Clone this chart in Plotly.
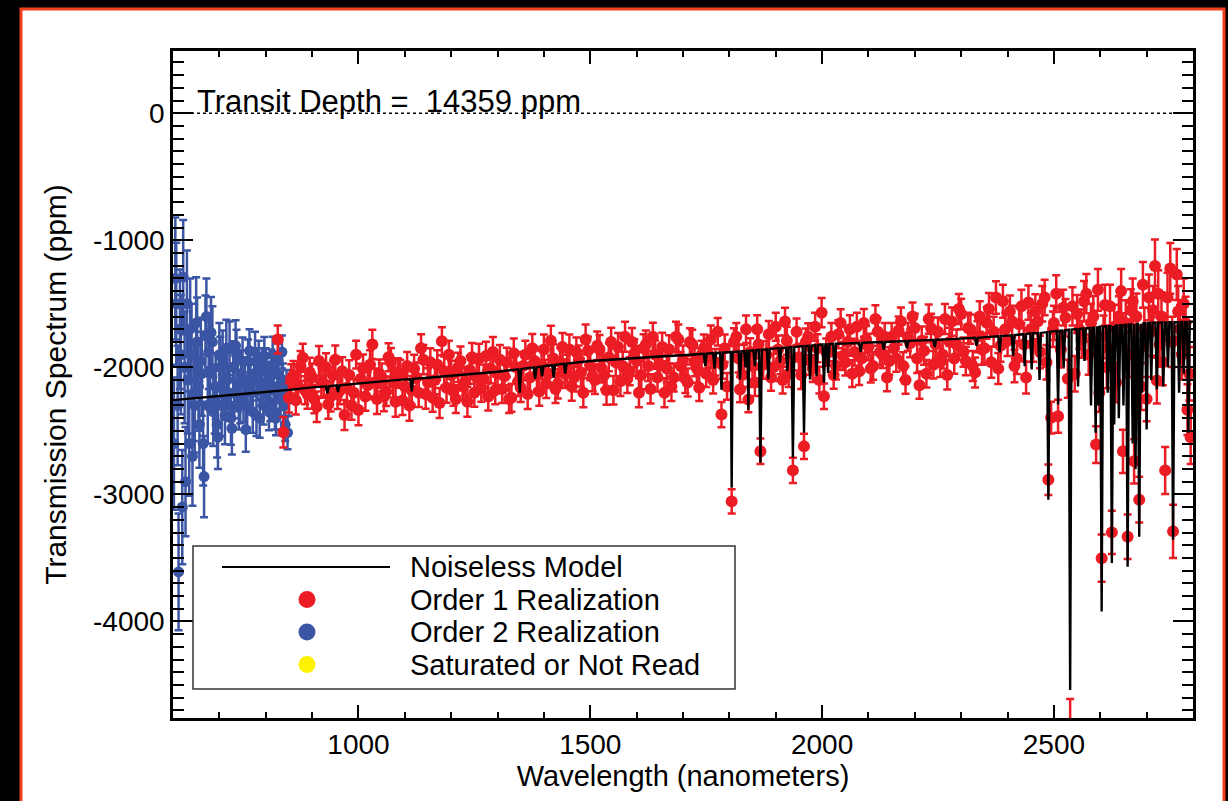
import plotly.graph_objects as go

# ---------------- data ----------------
# Order 2 realization (blue)
order2_wl = [602, 605, 607, 610, 612, 615, 617, 620, 622, 625, 627, 630, 632, 635, 637, 640, 642, 645, 647, 650,
             652, 655, 657, 660, 662, 665, 667, 670, 672, 675, 677, 680, 682, 685, 687, 690, 692, 695, 697, 700,
             702, 705, 707, 710, 712, 715, 717, 720, 722, 725, 727, 730, 732, 735, 737, 740, 742, 745, 747, 750,
             752, 755, 757, 760, 762, 765, 767, 770, 772, 775, 777, 780, 782, 785, 787, 790, 792, 795, 797, 800,
             802, 805, 807, 810, 812, 815, 817, 820, 822, 825, 827, 830, 832, 835, 837, 840, 842, 845, 847, 850]
order2_ppm = [-2600, -1300, -1500, -2300, -3610, -1700, -1900, -3100, -1290, -2000, -2900, -1500, -2100, -2600, -1700, -1900, -2700, -2200, -2300, -1650,
              -1800, -2150, -2450, -1950, -2050, -2600, -2860, -1750, -1600, -2300, -1880, -2050, -1726, -1800, -2350, -2250, -2150, -2450, -2550, -1900,
              -2000, -2300, -1939, -2100, -2380, -1850, -2100, -2200, -1850, -2400, -2480, -2000, -2200, -1830, -1900, -2150, -2300, -2250, -2050, -1950,
              -2250, -2100, -2490, -2300, -1950, -1870, -2150, -2200, -2350, -2050, -1880, -2380, -2100, -1950, -2400, -2150, -2000, -2300, -1912, -2000,
              -2200, -2100, -2350, -2280, -2000, -1900, -2150, -2350, -2400, -2050, -1950, -2200, -2250, -1880, -2100, -2300, -2450, -2150, -2514, -2250]
order2_err = [520, 480, 480, 470, 460, 470, 470, 450, 450, 440, 430, 420, 420, 410, 400, 400, 390, 380, 370, 360,
              350, 350, 340, 340, 330, 330, 320, 315, 300, 300, 290, 290, 280, 280, 270, 270, 260, 260, 250, 250,
              240, 240, 230, 230, 225, 225, 220, 220, 210, 210, 205, 205, 200, 200, 195, 195, 190, 190, 185, 185,
              180, 180, 175, 175, 170, 170, 170, 170, 165, 165, 160, 160, 160, 160, 155, 155, 150, 150, 150, 150,
              145, 145, 145, 145, 140, 140, 140, 140, 135, 135, 135, 135, 130, 130, 130, 130, 130, 130, 130, 130]

# Order 1 realization (red) - first half of the samples
order1_wl_a = [826, 838, 850, 860, 870, 880, 890, 900, 910, 920, 930, 940,
               950, 960, 970, 980, 990, 1000, 1010, 1020, 1030, 1040,
               1050, 1060, 1070, 1080, 1090, 1100, 1110, 1120, 1130, 1140,
               1150, 1160, 1170, 1180, 1190, 1200, 1210, 1220, 1230, 1240,
               1250, 1260, 1270, 1280, 1290, 1300, 1310, 1320, 1330, 1340,
               1350, 1360, 1370, 1380, 1390, 1400, 1410, 1420, 1430, 1440,
               1450, 1460, 1470, 1480, 1490, 1500, 1510, 1520, 1530, 1540,
               1550, 1560, 1570, 1580, 1590, 1600, 1610, 1620, 1630, 1640,
               1650, 1660, 1670, 1680, 1690, 1700, 1710, 1720, 1730, 1740,
               1750, 1760, 1770, 1783, 1790, 1805, 1815, 1823, 1832, 1841,
               1850, 1860, 1867, 1880, 1890, 1900, 1910, 1920, 1928, 1937,
               1950, 1961, 1970, 1980, 1990, 1999, 2004, 2015, 2025, 2035,
               2050, 2060, 2070, 2080, 2090, 2100, 2110, 2120, 2130, 2140,
               2150, 2160, 2170, 2180, 2190, 2200, 2210, 2220, 2230, 2240,
               2250, 2260, 2270, 2280, 2290, 2300, 2310, 2320, 2330, 2340,
               2350, 2360, 2370, 2380, 2390, 2400, 2410, 2420, 2430, 2440,
               2450, 2460, 2470, 2480, 2488, 2494, 2500, 2509, 2520, 2535,
               2545, 2550, 2560, 2570, 2580, 2591, 2598, 2603, 2610, 2617, 2625, 2634,
               2640, 2649, 2659, 2666, 2673, 2684, 2695, 2700, 2705, 2718, 2722, 2728, 2735, 2740,
               2751, 2757, 2765, 2772, 2780, 2788, 2795]
order1_ppm_a = [-1781, -2510, -2240, -2060, -2150, -1925, -2210, -2080, -2310, -2120, -2000, -2230,
                -1940, -2180, -2375, -2060, -2200, -2335, -2010, -2140, -1820, -2250,
                -2080, -2190, -1960, -2270, -2050, -2150, -2300, -2010, -2200, -1940,
                -2120, -2240, -1980, -1795, -2160, -2060, -2250, -1950, -2110, -2020,
                -2200, -1930, -2090, -2230, -1880, -2050, -2170, -1960, -2240, -2000,
                -2160, -1900, -2080, -1950, -2190, -1860, -2050, -1930, -2130, -1840,
                -2010, -2150, -1880, -2040, -1780, -1990, -2100, -1860, -2060, -1920,
                -2180, -1840, -1990, -2090, -1800, -1950, -2060, -1820, -2170, -1900,
                -1980, -2200, -1860, -2080, -1780, -1940, -2120, -1820, -2010, -1900,
                -2050, -1780, -1960, -2372, -1850, -3055, -1760, -2175, -1930, -2254,
                -1990, -1700, -2661, -1900, -2080, -1680, -1950, -1640, -2050, -2811,
                -1920, -2622, -1760, -2010, -1850, -1570, -2228, -1880, -2060, -1740,
                -1960, -1700, -1880, -2030, -1650, -1840, -1990, -1720, -1900, -2080,
                -1760, -1930, -1640, -2100, -1810, -1690, -2140, -1870, -1620, -1980,
                -1720, -1900, -2060, -1640, -1820, -1580, -1950, -1700, -2040, -1600,
                -1850, -1540, -1720, -2010, -1480, -1790, -1640, -1930, -1520, -2080,
                -1700, -1560, -1880, -1450, -2884, -2396, -1650, -2385, -1530, -4850,
                -2050, -1580, -1780, -1420, -1650, -2608, -2200, -3502, -1510, -1850, -3299, -2120,
                -1600, -2661, -3333, -1550, -2740, -3042, -1700, -2250, -1450, -1203, -2104, -1820, -1960, -2811,
                -1221, -3291, -1269, -1700, -1500, -2333, -2550]
order1_err_a = [110, 120, 115, 110, 120, 110, 115, 110, 120, 112, 110, 118,
                112, 110, 118, 115, 110, 120, 112, 110, 115, 118,
                110, 115, 112, 118, 110, 115, 120, 110, 112, 115,
                112, 110, 115, 110, 118, 112, 110, 115, 112, 110,
                110, 115, 112, 110, 118, 112, 110, 115, 110, 112,
                112, 110, 115, 110, 112, 118, 110, 112, 115, 110,
                110, 112, 115, 110, 118, 112, 110, 115, 112, 110,
                112, 110, 115, 112, 110, 118, 112, 110, 115, 112,
                110, 115, 112, 110, 118, 112, 110, 115, 112, 110,
                105, 110, 105, 100, 108, 95, 110, 100, 105, 100,
                105, 110, 100, 108, 105, 110, 105, 110, 105, 100,
                105, 100, 108, 105, 110, 115, 100, 105, 108, 110,
                105, 110, 105, 108, 110, 105, 108, 110, 105, 108,
                110, 105, 112, 108, 110, 112, 108, 110, 115, 108,
                112, 110, 115, 112, 118, 120, 112, 115, 118, 120,
                120, 125, 118, 122, 130, 120, 125, 122, 130, 125,
                130, 135, 128, 140, 120, 125, 135, 130, 140, 240,
                140, 150, 145, 155, 150, 145, 150, 186, 160, 150, 170, 155,
                160, 170, 175, 165, 175, 180, 170, 175, 180, 210, 180, 175, 180, 185,
                200, 210, 200, 190, 200, 200, 210]

# Order 1 realization (red) - interleaved second half of the samples
order1_wl_b = [855, 865, 875, 885, 895, 905, 915, 925, 935, 945,
               955, 965, 975, 985, 995, 1005, 1015, 1025, 1035, 1045,
               1055, 1065, 1075, 1085, 1095, 1105, 1115, 1125, 1135, 1145,
               1155, 1165, 1175, 1185, 1195, 1205, 1215, 1225, 1235, 1245,
               1255, 1265, 1275, 1285, 1295, 1305, 1315, 1325, 1335, 1345,
               1355, 1365, 1375, 1385, 1395, 1405, 1415, 1425, 1435, 1445,
               1455, 1465, 1475, 1485, 1495, 1505, 1515, 1525, 1535, 1545,
               1555, 1565, 1575, 1585, 1595, 1605, 1615, 1625, 1635, 1645,
               1655, 1665, 1675, 1685, 1695, 1705, 1715, 1725, 1735, 1745,
               1755, 1765, 1775, 1785, 1795, 1810, 1820, 1828, 1836, 1845,
               1855, 1863, 1873, 1885, 1895, 1905, 1915, 1924, 1932, 1945,
               1955, 1965, 1975, 1985, 1994, 2009, 2020, 2030, 2040, 2045,
               2055, 2065, 2075, 2085, 2095, 2105, 2115, 2125, 2135, 2145,
               2155, 2165, 2175, 2185, 2195, 2205, 2215, 2225, 2235, 2245,
               2255, 2265, 2275, 2285, 2295, 2305, 2315, 2325, 2335, 2345,
               2355, 2365, 2375, 2385, 2395, 2405, 2415, 2425, 2435, 2445,
               2455, 2465, 2475, 2484, 2498, 2505, 2515, 2525, 2530, 2540,
               2555, 2565, 2575, 2585, 2595, 2607, 2614, 2621, 2630, 2645,
               2655, 2662, 2670, 2678, 2688, 2692, 2710, 2714, 2725, 2732,
               2745, 2755, 2768, 2776, 2784, 2792]
order1_ppm_b = [-2090, -2260, -1990, -2180, -2040, -2250, -1950, -2130, -2290, -2060,
                -2210, -2030, -2160, -2300, -1900, -2090, -2230, -1980, -2120, -2050,
                -2230, -1920, -2120, -2040, -2260, -1990, -2180, -2080, -1850, -2210,
                -1960, -2100, -2280, -2030, -1900, -2190, -2000, -2150, -2270, -1920,
                -2080, -2160, -1910, -2010, -2180, -1940, -2070, -2250, -1890, -2110,
                -1990, -2210, -1850, -2060, -1980, -2130, -1790, -2170, -1960, -2050,
                -1860, -2080, -1940, -2200, -1870, -2070, -1830, -2010, -2180, -1800,
                -1960, -2110, -1760, -2030, -1890, -2200, -1850, -1990, -1760, -2080,
                -1840, -2010, -2150, -1760, -1990, -2090, -1800, -1960, -2160, -1850,
                -1900, -2100, -1720, -1980, -2150, -1800, -1930, -2060, -1700, -1880,
                -2120, -1820, -1980, -1740, -2000, -1860, -2100, -1790, -1940, -1720,
                -2060, -1800, -1950, -1680, -2100, -1880, -1760, -1990, -1650, -1910,
                -1800, -2050, -1680, -1930, -1780, -2010, -1620, -1880, -1760, -1950,
                -1850, -1710, -1990, -1760, -1600, -1930, -1790, -2050, -1690, -1820,
                -1960, -1620, -1800, -1930, -1540, -1880, -1690, -1990, -1760, -1860,
                -1650, -1960, -1450, -1830, -1700, -1560, -1990, -1660, -1820, -1490,
                -1820, -1640, -1500, -1960, -1700, -1420, -1860, -1610, -2090, -1520,
                -1700, -1480, -1900, -1600, -1390, -1760, -2000, -1520, -1680, -1400,
                -1650, -1900, -1480, -1600, -2150, -1350, -1720, -1550, -1420, -1600,
                -1450, -1800, -1560, -1900, -1650, -2050]
order1_err_b = [115, 112, 118, 110, 115, 112, 118, 110, 115, 112,
                118, 110, 115, 112, 110, 118, 112, 115, 110, 112,
                115, 110, 118, 112, 115, 110, 112, 118, 110, 115,
                110, 112, 118, 115, 110, 112, 115, 110, 118, 112,
                115, 110, 112, 118, 110, 115, 112, 110, 118, 115,
                110, 118, 112, 115, 110, 112, 118, 110, 115, 112,
                118, 110, 112, 115, 110, 118, 112, 110, 115, 112,
                110, 115, 118, 110, 112, 115, 110, 118, 112, 110,
                112, 110, 115, 118, 110, 112, 108, 110, 105, 108,
                110, 105, 108, 110, 105, 108, 110, 105, 108, 110,
                105, 108, 110, 105, 108, 110, 105, 110, 108, 105,
                110, 105, 108, 110, 105, 108, 110, 105, 108, 110,
                108, 105, 110, 108, 105, 110, 108, 105, 110, 108,
                112, 110, 108, 112, 110, 115, 112, 108, 112, 115,
                115, 118, 112, 120, 118, 115, 120, 118, 122, 120,
                125, 122, 128, 125, 130, 125, 128, 132, 130, 135,
                135, 138, 140, 135, 140, 145, 142, 148, 150, 150,
                155, 160, 158, 162, 165, 168, 165, 170, 172, 175,
                178, 175, 180, 182, 185, 180, 188, 190, 185, 192,
                195, 198, 200, 195, 205, 210]

# Noiseless model (wavelength nm, ppm)
model_points = [
    (600, -2258), (650, -2243), (700, -2228), (750, -2212), (800, -2195), (850, -2177), (900, -2158),
    (930, -2150), (933, -2205), (936, -2149), (953, -2142), (956, -2195), (959, -2141), (1000, -2125),
    (1050, -2110), (1100, -2095), (1112, -2092), (1115, -2190), (1118, -2091), (1150, -2082),
    (1200, -2068), (1250, -2052), (1300, -2035), (1345, -2015), (1348, -2200), (1351, -2013),
    (1378, -2000), (1381, -2090), (1384, -1999), (1393, -1994), (1396, -2070), (1399, -1991),
    (1418, -1983), (1421, -2080), (1424, -1981), (1443, -1973), (1446, -2050), (1449, -1971),
    (1500, -1950), (1550, -1938), (1600, -1925), (1650, -1915), (1700, -1905), (1730, -1898),
    (1745, -1893), (1748, -1990), (1751, -1892), (1765, -1888), (1768, -2010), (1771, -1887),
    (1780, -1885), (1783, -2175), (1786, -1884), (1803, -1879), (1805, -2947), (1807, -1879),
    (1820, -1875), (1823, -2096), (1826, -1874), (1832, -1872), (1835, -2000), (1838, -1871),
    (1839, -1871), (1841, -2333), (1843, -1870), (1852, -1866), (1855, -1990), (1858, -1865),
    (1864, -1863), (1867, -2750), (1870, -1861), (1881, -1858), (1884, -2096), (1887, -1857),
    (1906, -1849), (1909, -1962), (1912, -1848), (1922, -1844), (1925, -2030), (1928, -1843),
    (1934, -1842), (1937, -2711), (1940, -1840), (1958, -1833), (1961, -2514), (1964, -1832),
    (1971, -1830), (1974, -2096), (1977, -1829), (1985, -1826), (1988, -2070), (1991, -1825),
    (2001, -1820), (2004, -2120), (2007, -1819), (2010, -1818), (2013, -2044), (2016, -1817),
    (2024, -1815), (2027, -2096), (2030, -1814), (2060, -1811), (2080, -1808), (2083, -1880),
    (2086, -1807), (2100, -1805), (2130, -1801), (2133, -1860), (2136, -1800), (2160, -1796),
    (2180, -1793), (2183, -1850), (2186, -1792), (2200, -1790), (2240, -1784), (2243, -1840),
    (2246, -1783), (2280, -1778), (2300, -1775), (2330, -1768), (2333, -1830), (2336, -1767),
    (2360, -1760), (2380, -1755), (2383, -1883), (2386, -1754), (2400, -1750), (2409, -1747),
    (2412, -1910), (2415, -1746), (2434, -1739), (2437, -1990), (2440, -1738), (2449, -1733),
    (2452, -2017), (2455, -1732), (2466, -1730), (2469, -2100), (2472, -1729), (2485, -1722),
    (2488, -3042), (2491, -1721), (2506, -1713), (2509, -2293), (2512, -1712), (2518, -1710),
    (2521, -2000), (2524, -1709), (2532, -1704), (2535, -4540), (2538, -1703), (2549, -1699),
    (2552, -2150), (2555, -1698), (2563, -1694), (2566, -1950), (2569, -1693), (2577, -1690),
    (2580, -2300), (2583, -1689), (2587, -1687), (2590, -2514), (2593, -1686), (2594, -1686),
    (2596, -2300), (2598, -1681), (2600, -1680), (2603, -3922), (2606, -1679), (2613, -1677),
    (2616, -2200), (2619, -1676), (2622, -1675), (2625, -3540), (2628, -1674), (2630, -2450),
    (2633, -1672), (2637, -1671), (2640, -2400), (2643, -1670), (2647, -1668), (2650, -2300),
    (2653, -1666), (2656, -1665), (2659, -3570), (2662, -1664), (2667, -1662), (2670, -2600),
    (2673, -1661), (2676, -2800), (2679, -1659), (2681, -1658), (2684, -3333), (2687, -1657),
    (2690, -2200), (2693, -1654), (2697, -1652), (2700, -2490), (2703, -1650), (2707, -1649),
    (2710, -2100), (2713, -1649), (2719, -1648), (2722, -2175), (2725, -1648), (2733, -1647),
    (2736, -2150), (2739, -1646), (2743, -1646), (2746, -2000), (2749, -1645), (2754, -1645),
    (2757, -3357), (2760, -1644), (2767, -1644), (2770, -2200), (2773, -1643), (2777, -1643),
    (2780, -2050), (2783, -1642), (2787, -1642), (2790, -2514), (2793, -1641), (2800, -1640),
]
model_wl = [p[0] for p in model_points]
model_ppm = [p[1] for p in model_points]

x_tickvals = [1000, 1500, 2000, 2500]
x_ticktext = ["1000", "1500", "2000", "2500"]
y_tickvals = [0, -1000, -2000, -3000, -4000]
y_ticktext = ["0", "-1000", "-2000", "-3000", "-4000"]

legend_labels = ["Noiseless Model", "Order 1 Realization", "Order 2 Realization", "Saturated or Not Read"]
transit_text = "Transit Depth = \u00a014359 ppm"

# ---------------- styling ----------------
RED = "#ec1c24"
BLUE = "#3b55a5"
YELLOW = "#fff200"
FONT = "Liberation Sans, Arial, Helvetica, sans-serif"

W, H = 1228, 801
L, R, T, B = 173, 35, 51, 83
PW, PH = W - L - R, H - T - B


def px(xp):
    return (xp - L) / PW


def py(yp):
    return (H - B - yp) / PH


order1_wl = order1_wl_a + order1_wl_b
order1_ppm = order1_ppm_a + order1_ppm_b
order1_err = order1_err_a + order1_err_b

fig = go.Figure()
fig.add_trace(go.Scatter(
    x=order2_wl, y=order2_ppm, mode="markers", name=legend_labels[2],
    marker=dict(color=BLUE, size=11, line=dict(width=0)),
    error_y=dict(type="data", array=order2_err, color=BLUE, thickness=2.5, width=4),
))
fig.add_trace(go.Scatter(
    x=order1_wl, y=order1_ppm, mode="markers", name=legend_labels[1],
    marker=dict(color=RED, size=12, line=dict(width=0)),
    error_y=dict(type="data", array=order1_err, color=RED, thickness=2.5, width=4),
))
fig.add_trace(go.Scatter(
    x=model_wl, y=model_ppm, mode="lines", name=legend_labels[0],
    line=dict(color="black", width=2.4),
))

shapes = [
    # outer red frame with white interior
    dict(type="rect", xref="paper", yref="paper", x0=px(21), x1=px(1224), y0=py(830), y1=py(9),
         fillcolor="white", line=dict(color="#f2401f", width=3), layer="below"),
    # dotted zero line
    dict(type="line", xref="x", yref="y", x0=600, x1=2800, y0=0, y1=0,
         line=dict(color="black", width=1.5, dash="dot")),
    # legend box
    dict(type="rect", xref="paper", yref="paper", x0=px(193), x1=px(735), y0=py(689), y1=py(546),
         fillcolor="white", line=dict(color="#333333", width=1.5), layer="above"),
    dict(type="line", xref="paper", yref="paper", x0=px(222), x1=px(390), y0=py(567), y1=py(567),
         line=dict(color="black", width=2), layer="above"),
]
rows = [567, 599.5, 632, 664.5]
for yrow, col in zip(rows[1:], [RED, BLUE, YELLOW]):
    r = 8.5
    shapes.append(dict(type="circle", xref="paper", yref="paper",
                       x0=px(307 - r), x1=px(307 + r), y0=py(yrow + r), y1=py(yrow - r),
                       fillcolor=col, line=dict(width=0), layer="above"))

annotations = [
    dict(text=transit_text, xref="paper", yref="y", x=px(195), y=0, xanchor="left", yanchor="bottom",
         yshift=-8, showarrow=False, font=dict(size=31, family=FONT, color="black")),
]
for yrow, lab in zip(rows, legend_labels):
    annotations.append(dict(text=lab, xref="paper", yref="paper", x=px(409), y=py(yrow),
                            xanchor="left", yanchor="middle", showarrow=False, borderpad=0,
                            font=dict(size=29, family=FONT, color="black")))

fig.update_layout(
    width=W, height=H, margin=dict(l=L, r=R, t=T, b=B),
    paper_bgcolor="black", plot_bgcolor="rgba(0,0,0,0)",
    showlegend=False, font=dict(family=FONT, size=28, color="black"),
    shapes=shapes, annotations=annotations,
)
fig.update_xaxes(
    range=[600, 2800], tickmode="array", tickvals=x_tickvals, ticktext=x_ticktext,
    ticks="inside", ticklen=13, tickwidth=2, tickcolor="black",
    showline=True, linecolor="black", linewidth=2.5, mirror="allticks",
    showgrid=False, zeroline=False, tickfont=dict(size=28),
    minor=dict(tickmode="linear", tick0=0, dtick=100, ticks="inside", ticklen=6, tickwidth=2,
               tickcolor="black", showgrid=False),
    title=dict(text="Wavelength (nanometers)", font=dict(size=29), standoff=2),
)
fig.update_yaxes(
    range=[-4760, 490], tickmode="array", tickvals=y_tickvals, ticktext=y_ticktext,
    ticks="inside", ticklen=20, tickwidth=2, tickcolor="black",
    showline=True, linecolor="black", linewidth=2.5, mirror="allticks",
    showgrid=False, zeroline=False, tickfont=dict(size=28),
    minor=dict(tickmode="linear", tick0=0, dtick=100, ticks="inside", ticklen=11, tickwidth=2,
               tickcolor="black", showgrid=False),
    title=dict(text="Transmission Spectrum (ppm)", font=dict(size=30), standoff=18),
)

fig.write_html("out.html")
